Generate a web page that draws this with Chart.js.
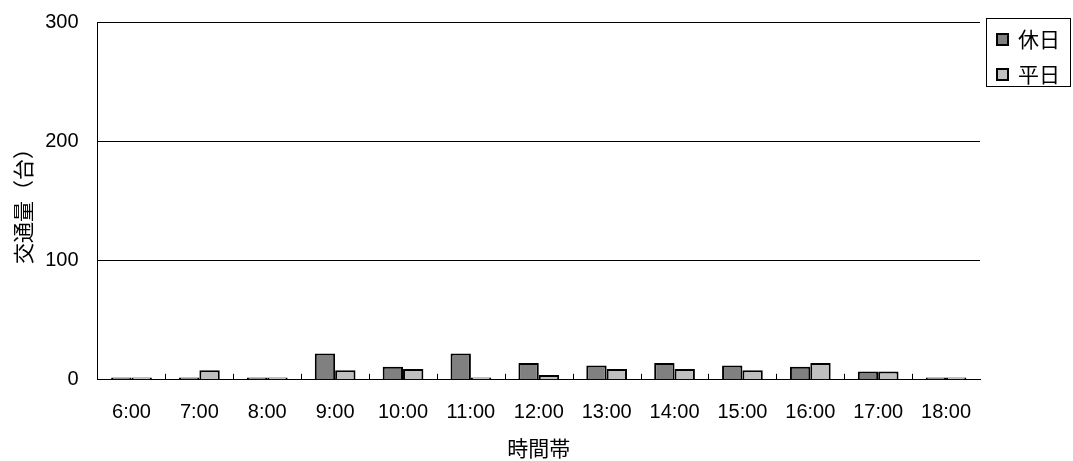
<!DOCTYPE html>
<html>
<head>
    <meta charset="utf-8">
    <title>交通量</title>
    <script src="https://cdn.jsdelivr.net/npm/chart.js"></script>
    <style>
        html, body { margin: 0; padding: 0; background: #fff; }
        #wrap { position: relative; width: 1073px; height: 461px; }
        .legend {
            position: absolute; left: 986px; top: 18px; width: 83px; height: 67px;
            border: 1px solid #000; font-family: "Noto Sans CJK JP", sans-serif; font-size: 21px; color: #000;
        }
        .legend .item { position: absolute; left: 9px; height: 24px; line-height: 24px; }
        .legend .box { display: inline-block; width: 9px; height: 9px; border: 2px solid #000; vertical-align: middle; margin-right: 9px; position: relative; top: -2px; }
    </style>
</head>
<body>
    <div id="wrap">
        <canvas id="trafficChart"></canvas>
        <div class="legend" id="legend"></div>
    </div>
    <script>
        var hours = ['6:00', '7:00', '8:00', '9:00', '10:00', '11:00', '12:00', '13:00', '14:00', '15:00', '16:00', '17:00', '18:00'];
        var holiday = [2, 2, 2, 22, 11, 22, 14, 12, 14, 12, 11, 7, 2];
        var weekday = [2, 8, 2, 8, 9, 2, 4, 9, 9, 8, 14, 7, 2];
        var yTicks = [0, 100, 200, 300];
        var seriesNames = ['休日', '平日'];
        var seriesColors = ['#808080', '#c0c0c0'];

        var latin = '"Liberation Sans", Arial, sans-serif';
        var jp = '"Noto Sans CJK JP", sans-serif';

        // legend drawn as html so the frame hugs the two entries
        var legendHtml = '';
        seriesNames.forEach(function(name, i) {
            legendHtml += '<div class="item" style="top:' + (7 + i * 35) + 'px"><span class="box" style="background:' + seriesColors[i] + '"></span>' + name + '</div>';
        });
        document.getElementById('legend').innerHTML = legendHtml;

        // small tick marks between categories, inside the plot
        var catTicks = {
            id: 'catTicks',
            afterDraw: function(chart) {
                var ctx = chart.ctx;
                var x = chart.scales.x;
                var bottom = chart.chartArea.bottom;
                ctx.save();
                ctx.strokeStyle = '#000';
                ctx.lineWidth = 1;
                for (var i = 1; i < hours.length; i++) {
                    var px = Math.round((x.getPixelForValue(i - 1) + x.getPixelForValue(i)) / 2) + 0.5;
                    ctx.beginPath();
                    ctx.moveTo(px, bottom - 6);
                    ctx.lineTo(px, bottom);
                    ctx.stroke();
                }
                ctx.restore();
            }
        };

        new Chart(document.getElementById('trafficChart'), {
            type: 'bar',
            data: {
                labels: hours,
                datasets: [{
                    label: seriesNames[0],
                    data: holiday,
                    backgroundColor: seriesColors[0],
                    borderColor: '#000',
                    borderWidth: 2,
                    categoryPercentage: 0.6,
                    barPercentage: 1
                }, {
                    label: seriesNames[1],
                    data: weekday,
                    backgroundColor: seriesColors[1],
                    borderColor: '#000',
                    borderWidth: 2,
                    categoryPercentage: 0.6,
                    barPercentage: 1
                }]
            },
            options: {
                responsive: true,
                maintainAspectRatio: false,
                animation: false,
                layout: { padding: { top: 22, right: 93, left: 10, bottom: 0 } },
                plugins: {
                    legend: { display: false },
                    tooltip: { enabled: false }
                },
                scales: {
                    x: {
                        // tickLength is only used as spacing: padding counts twice in the fit
                        grid: { display: false, drawTicks: true, tickLength: 17 },
                        border: { color: '#000', width: 1 },
                        ticks: { color: '#000', font: { family: latin, size: 20 }, padding: 4, maxRotation: 0 },
                        title: { display: true, text: '時間帯', color: '#000', font: { family: jp, size: 21 }, padding: { top: 7, bottom: 0 } }
                    },
                    y: {
                        min: 0,
                        max: 300,
                        afterBuildTicks: function(axis) {
                            axis.ticks = yTicks.map(function(v) { return { value: v }; });
                        },
                        grid: {
                            color: function(c) { return c.tick && c.tick.value === 0 ? 'rgba(0,0,0,0)' : '#000'; },
                            drawTicks: true,
                            tickLength: 19,
                            tickColor: 'rgba(0,0,0,0)'
                        },
                        border: { color: '#000', width: 1 },
                        ticks: { color: '#000', font: { family: latin, size: 20 }, padding: 0 },
                        title: { display: true, text: '交通量（台）', color: '#000', font: { family: jp, size: 21 }, padding: { top: 0, bottom: 10 } }
                    }
                }
            },
            plugins: [catTicks]
        });
    </script>
</body>
</html>
